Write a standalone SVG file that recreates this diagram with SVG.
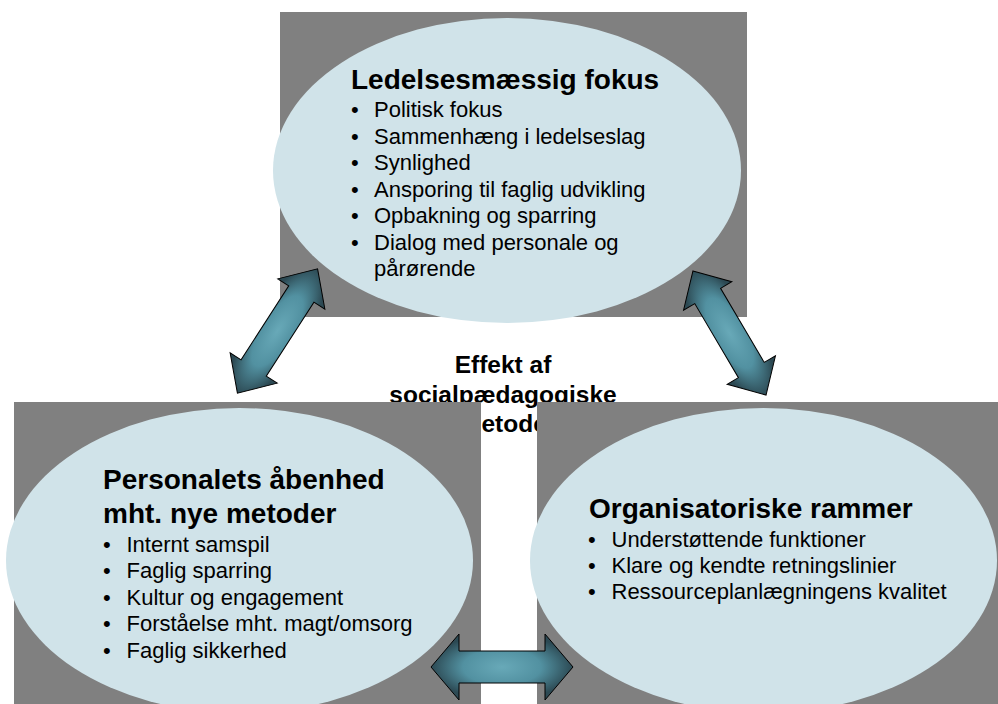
<svg xmlns="http://www.w3.org/2000/svg" width="998" height="704" viewBox="0 0 998 704">
<style>
  .bg{fill:#808080}
  .ell{fill:#D0E3E9}
  text{font-family:"Liberation Sans",Arial,sans-serif;fill:#000}
  .t{font-weight:bold;font-size:28px}
  .b{font-size:22px}
  .c{font-weight:bold;font-size:24.5px;text-anchor:middle}
  .arr{fill:url(#ag);stroke:#000;stroke-width:1;stroke-linejoin:miter}
</style>
<defs>
  <radialGradient id="ag" cx="0.5" cy="0.5" r="0.5">
    <stop offset="0" stop-color="#68A9B8"/>
    <stop offset="0.55" stop-color="#5291A1"/>
    <stop offset="1" stop-color="#2C4953"/>
  </radialGradient>
</defs>
<rect width="998" height="704" fill="#FFFFFF"/>

<g id="center">
  <text class="c" x="503" y="373">Effekt af</text>
  <text class="c" x="503" y="402.5">socialpædagogiske</text>
  <text class="c" x="508" y="432">metoder</text>
</g>

<g id="node-ledelse">
  <rect class="bg" x="280" y="12" width="467" height="305"/>
  <ellipse class="ell" cx="507" cy="170.5" rx="234" ry="152.5"/>
  <text class="t" x="351" y="89">Ledelsesmæssig fokus</text>
  <g class="b">
    <text x="351" y="117.3">•</text><text x="374" y="117.3">Politisk fokus</text>
    <text x="351" y="143.8">•</text><text x="374" y="143.8">Sammenhæng i ledelseslag</text>
    <text x="351" y="170.3">•</text><text x="374" y="170.3">Synlighed</text>
    <text x="351" y="196.8">•</text><text x="374" y="196.8">Ansporing til faglig udvikling</text>
    <text x="351" y="223.3">•</text><text x="374" y="223.3">Opbakning og sparring</text>
    <text x="351" y="249.8">•</text><text x="374" y="249.8">Dialog med personale og</text>
    <text x="374" y="276.3">pårørende</text>
  </g>
</g>

<g id="node-personale">
  <rect class="bg" x="14" y="402" width="467" height="305"/>
  <ellipse class="ell" cx="239.5" cy="560.5" rx="233.5" ry="152.5"/>
  <text class="t" x="103" y="489.3">Personalets åbenhed</text>
  <text class="t" x="103" y="523.3">mht. nye metoder</text>
  <g class="b">
    <text x="103" y="552">•</text><text x="126.5" y="552">Internt samspil</text>
    <text x="103" y="578.4">•</text><text x="126.5" y="578.4">Faglig sparring</text>
    <text x="103" y="604.8">•</text><text x="126.5" y="604.8">Kultur og engagement</text>
    <text x="103" y="631.2">•</text><text x="126.5" y="631.2">Forståelse mht. magt/omsorg</text>
    <text x="103" y="657.6">•</text><text x="126.5" y="657.6">Faglig sikkerhed</text>
  </g>
</g>

<g id="node-organisation">
  <rect class="bg" x="537" y="402" width="467" height="305"/>
  <ellipse class="ell" cx="763.5" cy="560.5" rx="233.5" ry="152.5"/>
  <text class="t" x="589" y="518.3">Organisatoriske rammer</text>
  <g class="b">
    <text x="588" y="546.7">•</text><text x="611.5" y="546.7">Understøttende funktioner</text>
    <text x="588" y="573">•</text><text x="611.5" y="573">Klare og kendte retningslinier</text>
    <text x="588" y="599.3">•</text><text x="611.5" y="599.3">Ressourceplanlægningens kvalitet</text>
  </g>
</g>

<g id="connectors">
  <path class="arr" transform="translate(277.5 331) rotate(-57.2)" d="M -74 0 L -44 -28 L -44 -15 L 44 -15 L 44 -28 L 74 0 L 44 28 L 44 15 L -44 15 L -44 28 Z"/>
  <path class="arr" transform="translate(729.5 333) rotate(59.5)" d="M -72 0 L -43 -28 L -43 -15 L 43 -15 L 43 -28 L 72 0 L 43 28 L 43 15 L -43 15 L -43 28 Z"/>
  <path class="arr" d="M 431 667 L 459 634 L 459 651 L 545 651 L 545 634 L 573 667 L 545 700 L 545 683 L 459 683 L 459 700 Z"/>
</g>
</svg>
